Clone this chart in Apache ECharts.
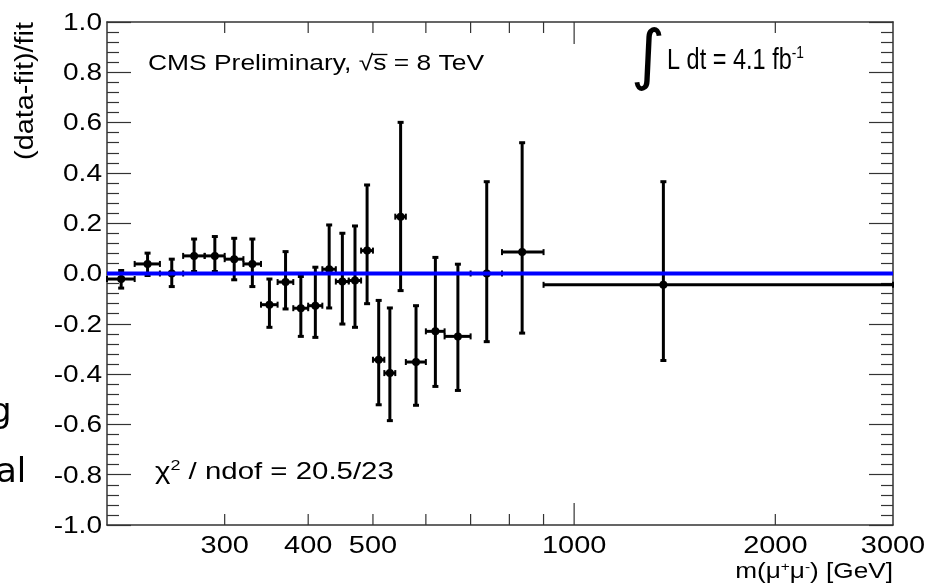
<!DOCTYPE html>
<html><head><meta charset="utf-8">
<script src="https://cdn.jsdelivr.net/npm/echarts@6/dist/echarts.min.js"></script>
<style>html,body{margin:0;padding:0;background:#fff}#c{width:931px;height:585px}</style>
</head><body><div id="c"></div>
<script>
// ---- data ----
const binLow    = [200,220,240,260,280,300,320,340,360,380,400,420,440,460,480,500,520,540,560,600,640,700,780,900];
const binHigh   = [220,240,260,280,300,320,340,360,380,400,420,440,460,480,500,520,540,560,600,640,700,780,900,3000];
const binCenter = [210,230,250,270,290,310,330,350,370,390,410,430,450,470,490,510,530,550,580,620,670,740,836,1360];
const ratio     = [-0.022,0.038,0.000,0.070,0.070,0.057,0.038,-0.124,-0.034,-0.138,-0.128,0.017,-0.032,-0.028,0.091,-0.343,-0.396,0.226,-0.352,-0.230,-0.250,0.000,0.085,-0.045];
const errTop    = [0.012,0.081,0.057,0.137,0.147,0.140,0.137,-0.022,0.087,-0.012,0.025,0.193,0.160,0.189,0.352,-0.107,-0.137,0.601,-0.128,0.064,0.037,0.365,0.520,0.365];
const errBottom = [-0.058,-0.008,-0.052,0.008,0.008,-0.025,-0.052,-0.214,-0.141,-0.250,-0.254,-0.137,-0.201,-0.214,-0.120,-0.522,-0.585,-0.068,-0.524,-0.449,-0.465,-0.271,-0.237,-0.346];
const fitX = [200, 3000];
const fitY = [0, 0];
const xMinorTicks = [300,400,500,600,700,800,900,2000];
const xMajorTicks = [1000];
const xTickLabels = [300,400,500,1000,2000,3000];
const yTickLabels = [-1.0,-0.8,-0.6,-0.4,-0.2,0.0,0.2,0.4,0.6,0.8,1.0];
const yMin = -1.0, yMax = 1.0, yStep = 0.2;
const xMin = 200, xMax = 3000;

const AX = '#333';
const FONT = 'Liberation Sans';

const errData = binCenter.map((c,i)=>[c, ratio[i], binLow[i], binHigh[i], errBottom[i], errTop[i]]);

function renderErr(params, api){
  const c = api.coord([api.value(0), api.value(1)]);
  const l = api.coord([api.value(2), api.value(1)]);
  const r = api.coord([api.value(3), api.value(1)]);
  const b = api.coord([api.value(0), api.value(4)]);
  const t = api.coord([api.value(0), api.value(5)]);
  const st = {stroke:'#000', lineWidth:3};
  const cap = 3;
  return {type:'group', children:[
    {type:'line', shape:{x1:l[0],y1:c[1],x2:r[0],y2:c[1]}, style:st},
    {type:'line', shape:{x1:c[0],y1:t[1],x2:c[0],y2:b[1]}, style:st},
    {type:'line', shape:{x1:c[0]-cap,y1:t[1],x2:c[0]+cap,y2:t[1]}, style:st},
    {type:'line', shape:{x1:c[0]-cap,y1:b[1],x2:c[0]+cap,y2:b[1]}, style:st},
    {type:'line', shape:{x1:l[0],y1:c[1]-cap,x2:l[0],y2:c[1]+cap}, style:{stroke:'#000',lineWidth:2}},
    {type:'line', shape:{x1:r[0],y1:c[1]-cap,x2:r[0],y2:c[1]+cap}, style:{stroke:'#000',lineWidth:2}},
    {type:'circle', shape:{cx:c[0],cy:c[1],r:4}, style:{fill:'#000'}}
  ]};
}

function tickRender(len){
  return function(params, api){
    const bot = api.coord([api.value(0), yMin]);
    const top = api.coord([api.value(0), yMax]);
    const st = {stroke:AX, lineWidth:1.2};
    return {type:'group', children:[
      {type:'line', shape:{x1:bot[0],y1:bot[1],x2:bot[0],y2:bot[1]-len}, style:st},
      {type:'line', shape:{x1:top[0],y1:top[1],x2:top[0],y2:top[1]+len}, style:st}
    ]};
  };
}

function xLabelRender(params, api){
  const p = api.coord([api.value(0), yMin]);
  return {type:'text', x:p[0], y:p[1]+22, scaleX:1.23,
    style:{text:String(api.value(0)), fontFamily:FONT, fontSize:23.5, fill:'#000', align:'center', verticalAlign:'middle'}};
}
function yLabelRender(params, api){
  const p = api.coord([xMin, api.value(0)]);
  return {type:'text', x:p[0]-5, y:p[1]+1.5, scaleX:1.22,
    style:{text:api.value(0).toFixed(1), fontFamily:FONT, fontSize:23, fill:'#000', align:'right', verticalAlign:'middle'}};
}

// overbar of the square root in the CMS label (layout only)
const cmsX = 148, cmsY = 63.5, cmsScale = 1.2, cmsSize = 22;
const mctx = document.createElement('canvas').getContext('2d');
mctx.font = cmsSize + 'px "' + FONT + '"';
const sqrtStart = mctx.measureText('CMS Preliminary, √').width * cmsScale + cmsX;
const sqrtEnd = sqrtStart + mctx.measureText('s').width * cmsScale + 1;

const yAxisBase = {
  type:'value', min:yMin, max:yMax, interval:yStep,
  axisLine:{show:true, onZero:false, lineStyle:{color:AX, width:1.5}},
  axisTick:{show:true, inside:true, length:24, lineStyle:{color:AX, width:1.2}},
  minorTick:{show:true, splitNumber:5, length:12, lineStyle:{color:AX, width:1.2}},
  splitLine:{show:false}, minorSplitLine:{show:false}, axisLabel:{show:false}
};

const chart = echarts.init(document.getElementById('c'), null, {renderer:'canvas'});
chart.setOption({
  animation:false,
  backgroundColor:'#fff',
  grid:{left:107, right:38, top:22, bottom:60, containLabel:false},
  xAxis:[
    {type:'log', logBase:10, min:xMin, max:xMax, position:'bottom',
     axisLine:{show:true, onZero:false, lineStyle:{color:AX, width:1.5}}, axisTick:{show:false}, axisLabel:{show:false}, splitLine:{show:false}},
    {type:'log', logBase:10, min:xMin, max:xMax, position:'top',
     axisLine:{show:true, onZero:false, lineStyle:{color:AX, width:1.5}}, axisTick:{show:false}, axisLabel:{show:false}, splitLine:{show:false}}
  ],
  yAxis:[
    Object.assign({}, yAxisBase, {position:'left'}),
    Object.assign({}, yAxisBase, {position:'right'})
  ],
  series:[
    {type:'custom', name:'minorTicks', xAxisIndex:0, yAxisIndex:0, renderItem:tickRender(11), data:xMinorTicks.map(v=>[v]), silent:true, z:1},
    {type:'custom', name:'majorTicks', xAxisIndex:0, yAxisIndex:0, renderItem:tickRender(22), data:xMajorTicks.map(v=>[v]), silent:true, z:1},
    {type:'custom', name:'xLabels', xAxisIndex:0, yAxisIndex:0, renderItem:xLabelRender, data:xTickLabels.map(v=>[v]), silent:true, clip:false, z:1},
    {type:'custom', name:'yLabels', xAxisIndex:0, yAxisIndex:0, renderItem:yLabelRender, data:yTickLabels.map(v=>[v]), silent:true, clip:false, z:1},
    {type:'custom', name:'data', xAxisIndex:0, yAxisIndex:0, renderItem:renderErr, data:errData,
     encode:{x:[0,2,3], y:[1,4,5]}, z:3},
    {type:'line', name:'fit', xAxisIndex:0, yAxisIndex:0, data:fitX.map((x,i)=>[x,fitY[i]]),
     symbol:'none', lineStyle:{color:'#0000ff', width:4}, z:5}
  ],
  graphic:[
    {type:'text', x:25.5, y:22, rotation:Math.PI/2, scaleX:1.11,
     style:{text:'(data-fit)/fit', fontFamily:FONT, fontSize:26, fill:'#000', align:'right', verticalAlign:'middle'}},
    {type:'text', x:893, y:571.5, scaleX:1.19,
     style:{text:'m(μ{sup|+}μ{sup|-}) [GeV]', fontFamily:FONT, fontSize:22, fill:'#000', align:'right', verticalAlign:'middle',
       rich:{sup:{fontSize:13, fontFamily:FONT, fill:'#000', verticalAlign:'top', lineHeight:22}}}},
    {type:'text', x:cmsX, y:cmsY, scaleX:cmsScale,
     style:{text:'CMS Preliminary, √s = 8 TeV', fontFamily:FONT, fontSize:cmsSize, fill:'#000', align:'left', verticalAlign:'middle'}},
    {type:'line', shape:{x1:sqrtStart-1, y1:cmsY-9, x2:sqrtEnd, y2:cmsY-9}, style:{stroke:'#000', lineWidth:1.3}},
    {type:'text', x:648, y:60,
     style:{text:'∫', fontFamily:'DejaVu Sans', fontSize:66, fill:'#000', align:'center', verticalAlign:'middle'}},
    {type:'text', x:667, y:61, scaleX:0.81,
     style:{text:'L dt = 4.1 fb{sup|-1}', fontFamily:FONT, fontSize:29, fill:'#000', align:'left', verticalAlign:'middle',
       rich:{sup:{fontSize:17, fontFamily:FONT, fill:'#000', verticalAlign:'top', lineHeight:32}}}},
    {type:'text', x:155, y:472, scaleX:1.2,
     style:{text:'χ{sup|2} / ndof = 20.5/23', fontFamily:FONT, fontSize:24.5, fill:'#000', align:'left', verticalAlign:'middle',
       rich:{sup:{fontSize:15, fontFamily:FONT, fill:'#000', verticalAlign:'top', lineHeight:28}}}},
    {type:'text', x:-10, y:413,
     style:{text:'g', fontFamily:'DejaVu Sans', fontSize:34, fill:'#000', align:'left', verticalAlign:'middle'}},
    {type:'text', x:-4, y:473,
     style:{text:'al', fontFamily:'DejaVu Sans', fontSize:34, fill:'#000', align:'left', verticalAlign:'middle'}}
  ]
});
</script></body></html>
